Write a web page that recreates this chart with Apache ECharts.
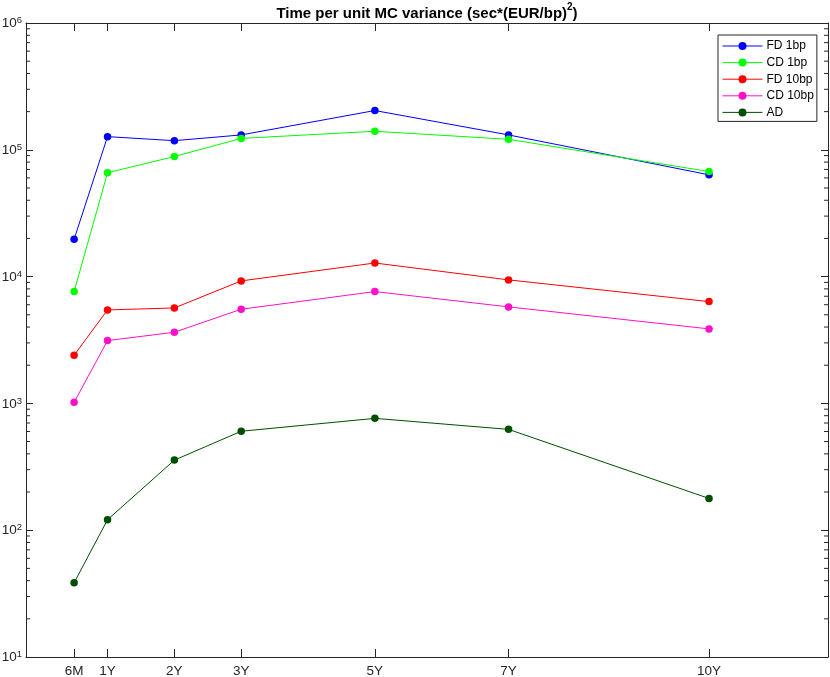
<!DOCTYPE html>
<html>
<head>
<meta charset="utf-8">
<script src="https://cdn.jsdelivr.net/npm/echarts@6/dist/echarts.min.js"></script>
<style>html,body{margin:0;padding:0;background:#fff}#c{width:830px;height:677px}</style>
</head>
<body>
<div id="c"></div>
<script>
const xLabels = ['6M', '1Y', '2Y', '3Y', '5Y', '7Y', '10Y'];
const xValues = [0.5, 1, 2, 3, 5, 7, 10];
const fd1 = [19700, 127000, 118000, 131000, 204000, 131000, 63500];
const cd1 = [7620, 65900, 88500, 123000, 140000, 121000, 67400];
const fd10 = [2400, 5460, 5660, 9250, 12800, 9420, 6350];
const cd10 = [1020, 3130, 3640, 5530, 7620, 5770, 3870];
const ad = [38.5, 121, 357, 603, 762, 624, 178];
const seriesNames = ['FD 1bp', 'CD 1bp', 'FD 10bp', 'CD 10bp', 'AD'];
const seriesColors = ['#0000ff', '#00ff00', '#ff0000', '#ff10c8', '#004f00'];
const minorTicks = [20, 30, 40, 50, 60, 70, 80, 90,
  200, 300, 400, 500, 600, 700, 800, 900,
  2000, 3000, 4000, 5000, 6000, 7000, 8000, 9000,
  20000, 30000, 40000, 50000, 60000, 70000, 80000, 90000,
  200000, 300000, 400000, 500000, 600000, 700000, 800000, 900000];

const X_MIN = -0.22, X_MAX = 11.78;
const AX = '#262626';
const FONT = 'Liberation Sans';

const chart = echarts.init(document.getElementById('c'), null, {renderer: 'canvas'});

function pairs(vals) { return xValues.map((x, i) => [x, vals[i]]); }
const allData = [fd1, cd1, fd10, cd10, ad];

const lineSeries = seriesNames.map((n, i) => ({
  name: n,
  type: 'line',
  xAxisIndex: 0,
  yAxisIndex: 0,
  data: pairs(allData[i]),
  symbol: 'circle',
  symbolSize: 7.5,
  showSymbol: true,
  lineStyle: {color: seriesColors[i], width: 1},
  itemStyle: {color: seriesColors[i]},
  emphasis: {disabled: true},
  animation: false,
  z: 3 + i
}));

const minorSeries = {
  type: 'custom',
  xAxisIndex: 0,
  yAxisIndex: 0,
  silent: true,
  animation: false,
  clip: false,
  data: minorTicks.map(v => [X_MIN, v]),
  renderItem: function (params, api) {
    const v = api.value(1);
    const pL = api.coord([X_MIN, v]);
    const pR = api.coord([X_MAX, v]);
    return {
      type: 'group',
      children: [
        {type: 'line', shape: {x1: pL[0], y1: pL[1], x2: pL[0] + 4, y2: pL[1]}, style: {stroke: AX, lineWidth: 1}},
        {type: 'line', shape: {x1: pR[0], y1: pR[1], x2: pR[0] - 4, y2: pR[1]}, style: {stroke: AX, lineWidth: 1}}
      ]
    };
  }
};

const xAxisBase = {
  type: 'value',
  min: X_MIN,
  max: X_MAX,
  splitLine: {show: false},
  axisLine: {show: true, onZero: false, lineStyle: {color: AX, width: 1}},
  axisTick: {show: true, inside: true, length: 8, customValues: xValues, lineStyle: {color: AX}},
  axisLabel: {show: true, customValues: xValues, margin: 7, color: AX, fontFamily: FONT, fontSize: 13.5,
    formatter: v => { const i = xValues.indexOf(v); return i >= 0 ? xLabels[i] : ''; }}
};

const yAxisBase = {
  type: 'log',
  logBase: 10,
  min: 10,
  max: 1000000,
  splitLine: {show: false},
  minorTick: {show: false},
  axisLine: {show: true, onZero: false, lineStyle: {color: AX, width: 1}},
  axisTick: {show: true, inside: true, length: 7, lineStyle: {color: AX}},
  axisLabel: {show: true, margin: 4, color: AX, fontFamily: FONT, fontSize: 13.5,
    formatter: v => '{b|10}{s|' + Math.round(Math.log10(v)) + '}',
    rich: {
      b: {fontSize: 13.5, fontFamily: FONT, color: AX, lineHeight: 15, verticalAlign: 'bottom'},
      s: {fontSize: 9.5, fontFamily: FONT, color: AX, lineHeight: 9, verticalAlign: 'top'}
    }
  }
};

chart.setOption({
  backgroundColor: '#ffffff',
  animation: false,
  title: {
    text: '{t|Time per unit MC variance (sec*(EUR/bp)}{s|2}{t|)}',
    left: 427,
    textAlign: 'center',
    top: 2,
    padding: 0,
    textStyle: {
      rich: {
        t: {fontSize: 15, fontWeight: 'bold', fontFamily: FONT, color: '#000', lineHeight: 19, verticalAlign: 'bottom'},
        s: {fontSize: 10, fontWeight: 'bold', fontFamily: FONT, color: '#000', lineHeight: 10, verticalAlign: 'top'}
      }
    }
  },
  grid: {left: 26, right: 2, top: 23, bottom: 20, containLabel: false, outerBoundsMode: 'none'},
  legend: {
    data: seriesNames,
    orient: 'vertical',
    left: 718,
    top: 35,
    itemWidth: 40,
    itemHeight: 10,
    itemGap: 4.6,
    padding: [5, 3, 3, 4],
    borderColor: AX,
    borderWidth: 1,
    backgroundColor: '#ffffff',
    selectedMode: false,
    lineStyle: {width: 1},
    textStyle: {fontFamily: FONT, fontSize: 12, color: '#000', padding: [0, 0, 0, -1]}
  },
  xAxis: [
    Object.assign({}, xAxisBase, {position: 'bottom'}),
    Object.assign({}, xAxisBase, {position: 'top', axisLabel: {show: false}})
  ],
  yAxis: [
    Object.assign({}, yAxisBase, {position: 'left'}),
    Object.assign({}, yAxisBase, {position: 'right', axisLabel: {show: false}})
  ],
  series: lineSeries.concat([minorSeries])
});
</script>
</body>
</html>
